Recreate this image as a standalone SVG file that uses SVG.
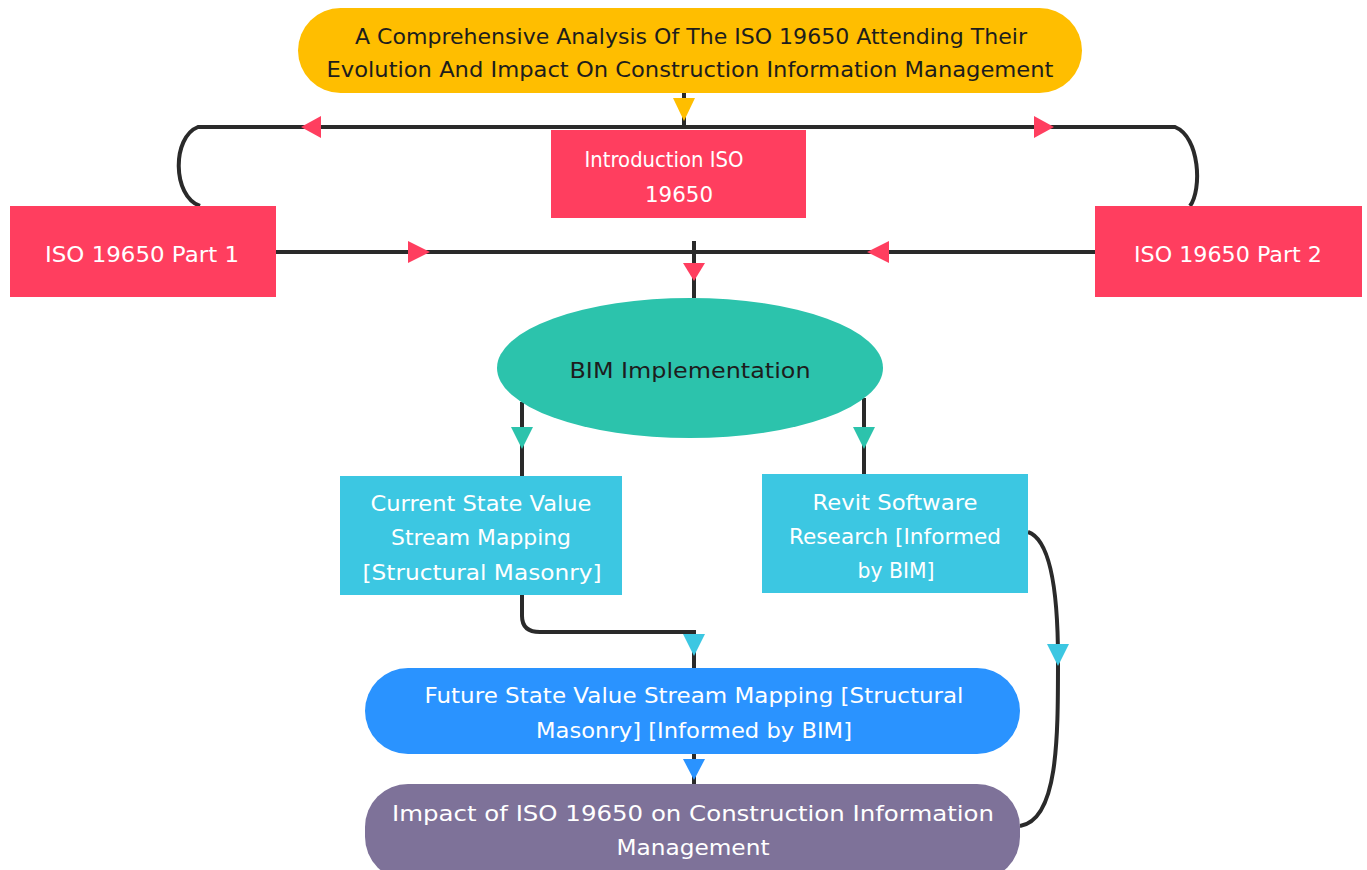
<svg xmlns="http://www.w3.org/2000/svg" width="1367" height="870" viewBox="0 0 1367 870">
  <style>
    .lbl { font-family: "DejaVu Sans", "Liberation Sans", sans-serif; font-size: 22px; text-anchor: middle; }
    .w { fill: #ffffff; }
    .k { fill: #1d1d1d; }
    .edge { fill: none; stroke: #2a2a2a; stroke-width: 4; }
  </style>
  <rect width="1367" height="870" fill="#ffffff"/>

  <!-- connectors -->
  <g id="connectors">
    <path class="edge" d="M684 93 V127"/>
    <path class="edge" d="M200 206 C172 196 172 137 198 127 H1175 C1200 137 1202 190 1190 206"/>
    <path class="edge" d="M276 252 H1095"/>
    <path class="edge" d="M694 241 V298"/>
    <path class="edge" d="M522 402 V476"/>
    <path class="edge" d="M864 398 V474"/>
    <path class="edge" d="M522 595 V616 Q522 632 540 632 H694 V668"/>
    <path class="edge" d="M1028 532 C1052 540 1058 600 1058 660 C1058 740 1058 820 1020 826"/>
    <path class="edge" d="M694 754 V784"/>
    <!-- arrowheads -->
    <polygon fill="#FFBE00" points="673,98 695,98 684,121"/>
    <polygon fill="#FF3E5F" points="321,116 321,138 301,127"/>
    <polygon fill="#FF3E5F" points="1034,116 1034,138 1054,127"/>
    <polygon fill="#FF3E5F" points="408,241 408,263 430,252"/>
    <polygon fill="#FF3E5F" points="889,241 889,263 867,252"/>
    <polygon fill="#FF3E5F" points="683,263 705,263 694,281"/>
    <polygon fill="#2CC3AC" points="511,427 533,427 522,449"/>
    <polygon fill="#2CC3AC" points="853,427 875,427 864,449"/>
    <polygon fill="#3CC7E2" points="683,634 705,634 694,656"/>
    <polygon fill="#3CC7E2" points="1047,644 1069,644 1058,666"/>
    <polygon fill="#2A93FF" points="683,759 705,759 694,780"/>
  </g>

  <g id="title">
    <rect x="298" y="8" width="784" height="85" rx="42.5" fill="#FFBE00"/>
    <text class="lbl k" x="691" y="44" textLength="672" lengthAdjust="spacingAndGlyphs">A Comprehensive Analysis Of The ISO 19650 Attending Their</text>
    <text class="lbl k" x="690" y="77" textLength="727" lengthAdjust="spacingAndGlyphs">Evolution And Impact On Construction Information Management</text>
  </g>

  <g id="intro">
    <rect x="551" y="130" width="255" height="88" fill="#FF3E5F"/>
    <text class="lbl w" x="664" y="167" textLength="159" lengthAdjust="spacingAndGlyphs">Introduction ISO</text>
    <text class="lbl w" x="679" y="202" textLength="68" lengthAdjust="spacingAndGlyphs">19650</text>
  </g>

  <g id="part1">
    <rect x="10" y="206" width="266" height="91" fill="#FF3E5F"/>
    <text class="lbl w" x="142" y="262" textLength="194" lengthAdjust="spacingAndGlyphs">ISO 19650 Part 1</text>
  </g>

  <g id="part2">
    <rect x="1095" y="206" width="267" height="91" fill="#FF3E5F"/>
    <text class="lbl w" x="1228" y="262" textLength="188" lengthAdjust="spacingAndGlyphs">ISO 19650 Part 2</text>
  </g>

  <g id="bim">
    <ellipse cx="690" cy="368" rx="193" ry="70" fill="#2CC3AC"/>
    <text class="lbl k" x="690" y="378" textLength="241" lengthAdjust="spacingAndGlyphs">BIM Implementation</text>
  </g>

  <g id="current">
    <rect x="340" y="476" width="282" height="119" fill="#3CC7E2"/>
    <text class="lbl w" x="481" y="511" textLength="221" lengthAdjust="spacingAndGlyphs">Current State Value</text>
    <text class="lbl w" x="481" y="545" textLength="180" lengthAdjust="spacingAndGlyphs">Stream Mapping</text>
    <text class="lbl w" x="482" y="580" textLength="239" lengthAdjust="spacingAndGlyphs">[Structural Masonry]</text>
  </g>

  <g id="revit">
    <rect x="762" y="474" width="266" height="119" fill="#3CC7E2"/>
    <text class="lbl w" x="895" y="510" textLength="165" lengthAdjust="spacingAndGlyphs">Revit Software</text>
    <text class="lbl w" x="895" y="544" textLength="212" lengthAdjust="spacingAndGlyphs">Research [Informed</text>
    <text class="lbl w" x="896" y="578" textLength="77" lengthAdjust="spacingAndGlyphs">by BIM]</text>
  </g>

  <g id="future">
    <rect x="365" y="668" width="655" height="86" rx="43" fill="#2A93FF"/>
    <text class="lbl w" x="694" y="703" textLength="539" lengthAdjust="spacingAndGlyphs">Future State Value Stream Mapping [Structural</text>
    <text class="lbl w" x="694" y="738" textLength="316" lengthAdjust="spacingAndGlyphs">Masonry] [Informed by BIM]</text>
  </g>

  <g id="impact">
    <rect x="365" y="784" width="655" height="96" rx="43" fill="#7E7299"/>
    <text class="lbl w" x="693" y="821" textLength="602" lengthAdjust="spacingAndGlyphs">Impact of ISO 19650 on Construction Information</text>
    <text class="lbl w" x="693" y="855" textLength="153" lengthAdjust="spacingAndGlyphs">Management</text>
  </g>
</svg>
